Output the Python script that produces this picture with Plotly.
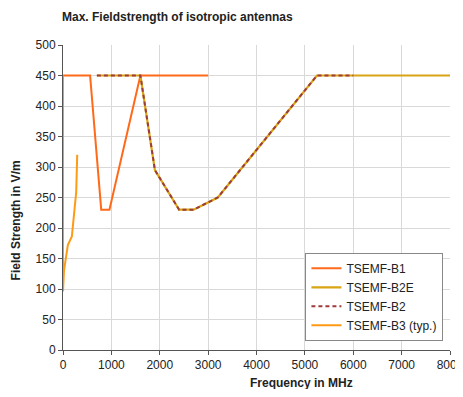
import plotly.graph_objects as go

# Data
b1_x = [0, 560, 790, 960, 1600, 3000]
b1_y = [450, 450, 230, 230, 450, 450]

b2e_x = [700, 1600, 1900, 2400, 2700, 3200, 5250, 8000]
b2e_y = [450, 450, 295, 230, 230, 250, 450, 450]

b2_x = [700, 1600, 1900, 2400, 2700, 3200, 5250, 6000]
b2_y = [450, 450, 295, 230, 230, 250, 450, 450]

b3_x = [0, 0, 20, 100, 183, 238, 273, 294]
b3_y = [450, 96, 130, 172, 186, 227, 259, 320]

x_ticks = [0, 1000, 2000, 3000, 4000, 5000, 6000, 7000, 8000]
y_ticks = [0, 50, 100, 150, 200, 250, 300, 350, 400, 450, 500]

FONT = "Liberation Sans, Arial, sans-serif"

fig = go.Figure()
fig.add_trace(go.Scatter(x=b1_x, y=b1_y, mode="lines", name="TSEMF-B1",
                         line=dict(color="#FF6A1A", width=2)))
fig.add_trace(go.Scatter(x=b2e_x, y=b2e_y, mode="lines", name="TSEMF-B2E",
                         line=dict(color="#D9A514", width=2.2)))
fig.add_trace(go.Scatter(x=b2_x, y=b2_y, mode="lines", name="TSEMF-B2",
                         line=dict(color="#9E3B3B", width=2, dash="4px,3px")))
fig.add_trace(go.Scatter(x=b3_x, y=b3_y, mode="lines", name="TSEMF-B3 (typ.)",
                         line=dict(color="#FF9A14", width=2)))

fig.update_layout(
    width=455, height=381,
    margin=dict(l=55, r=13, t=37, b=39),
    paper_bgcolor="white", plot_bgcolor="white",
    font=dict(family=FONT, size=12, color="#222222"),
    showlegend=True,
    legend=dict(x=0.983, y=0.03, xanchor="right", yanchor="bottom",
                bgcolor="white", bordercolor="#888888", borderwidth=1,
                font=dict(size=12, color="#222222"), tracegroupgap=0,
                itemwidth=30),
    xaxis=dict(range=[0, 8000], tickvals=x_ticks, showgrid=True,
               gridcolor="#d9d9d9", gridwidth=1, showline=True,
               linecolor="#555555", linewidth=1, ticks="outside", ticklen=4,
               tickcolor="#555555", zeroline=False, mirror=False,
               tickfont=dict(size=12), ticklabeloverflow="allow",
               automargin=False, layer="below traces"),
    yaxis=dict(range=[0, 500], tickvals=y_ticks, showgrid=True,
               gridcolor="#d9d9d9", gridwidth=1, showline=True,
               linecolor="#555555", linewidth=1, ticks="outside", ticklen=4,
               tickcolor="#555555", zeroline=False, automargin=False,
               tickfont=dict(size=12), layer="below traces"),
    annotations=[
        dict(text="<b>Max. Fieldstrength of isotropic antennas</b>",
             xref="paper", yref="paper", x=-0.0065, y=1.0,
             yanchor="bottom", xanchor="left", yshift=19, showarrow=False,
             font=dict(size=12, color="#222222")),
        dict(text="<b>Frequency in MHz</b>", xref="paper", yref="paper",
             x=0.617, y=0, xanchor="center", yanchor="top", yshift=-24,
             showarrow=False, font=dict(size=12, color="#222222")),
        dict(text="<b>Field Strength in V/m</b>", xref="paper", yref="paper",
             x=0, y=0.425, xanchor="center", yanchor="middle", xshift=-47,
             textangle=-90, showarrow=False,
             font=dict(size=12, color="#222222")),
    ],
)

fig.write_html("out.html")
